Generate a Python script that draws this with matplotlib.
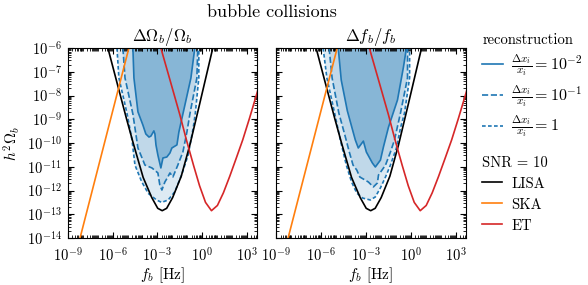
import numpy as np
import matplotlib
matplotlib.use("Agg")
import matplotlib.pyplot as plt
from matplotlib.lines import Line2D
from matplotlib.ticker import LogLocator, NullFormatter

plt.rcParams.update({
    'font.family': 'serif',
    'font.serif': ['cmr10'],
    'mathtext.fontset': 'cm',
    'axes.formatter.use_mathtext': True,
    'axes.unicode_minus': False,
})

# ── Données (log10 f [Hz], log10 h^2 Omega) ──────────────────────────────────
# courbes de sensibilite (SNR = 10), identiques dans les deux panneaux
lisa_lf = [-6.54, -6.32, -5.67, -5.06, -4.62, -3.95, -3.37, -2.97, -2.67,
           -2.37, -1.97, -1.39, -0.81, -0.17, 0.73, 0.92]
lisa_lO = [-5.48, -6.0, -7.55, -9.0, -10.0, -11.45, -12.3, -12.75, -12.85,
           -12.75, -12.3, -11.4, -10.08, -8.4, -6.0, -5.5]

ska_lf = [-8.4, -4.7]
ska_lO = [-14.51, -5.49]

et_lf = [-2.96, -2.76, -2.1, -1.48, -1.03, -0.56, -0.16, 0.24, 0.64,
         1.04, 1.44, 1.87, 2.3, 2.74, 3.2, 3.68, 3.9]
et_lO = [-5.5, -6.0, -7.45, -8.82, -9.9, -10.95, -11.8, -12.5, -12.85,
         -12.63, -12.1, -11.4, -10.65, -9.87, -8.95, -7.94, -7.45]

# panneau gauche : Delta Omega_b / Omega_b
om_sol_lf = [-4.64, -4.57, -4.30, -3.97, -3.77, -3.56, -3.43, -3.23, -3.16, -3.09, -2.96, -2.76,
             -2.62, -2.36, -2.15, -2.02, -1.68, -1.55, -1.28, -0.74, -0.48]
om_sol_lO = [-6.0, -7.26, -8.69, -9.24, -9.62, -9.75, -9.71, -9.49, -9.62, -10.08, -10.51, -11.05,
             -10.63, -10.59, -10.42, -10.21, -10.08, -9.54, -8.78, -7.26, -6.0]

om_lng_lf = [-5.31, -5.17, -4.64, -4.30, -3.83, -3.36, -2.96, -2.83, -2.69, -2.49, -2.29, -2.15,
             -1.95, -1.62, -1.28, -1.01, -0.81, -0.34, -0.28]
om_lng_lO = [-6.0, -7.26, -8.78, -10.21, -10.93, -11.05, -11.26, -11.77, -11.98, -11.64, -11.43, -11.26,
             -11.43, -10.93, -10.38, -9.54, -8.78, -7.26, -6.0]

om_sht_lf = [-5.71, -5.58, -5.04, -4.70, -4.50, -4.05, -3.61, -3.05, -2.71, -2.27, -1.82, -1.37,
             -0.93, -0.59, -0.45, -0.21, -0.21]
om_sht_lO = [-6.0, -7.26, -8.74, -9.87, -10.93, -11.63, -12.12, -12.40, -12.50, -12.40, -12.05, -11.35,
             -10.51, -9.38, -8.78, -7.26, -6.0]

# panneau droit : Delta f_b / f_b
fb_sol_lf = [-4.84, -4.64, -4.23, -3.70, -3.50, -3.16, -2.96, -2.56, -2.36, -2.02, -1.82, -1.48,
             -0.88, -0.48, -0.28]
fb_sol_lO = [-6.0, -7.35, -8.65, -9.87, -10.21, -9.92, -10.38, -10.84, -11.01, -10.72, -10.17, -9.33,
             -8.19, -6.80, -6.0]

fb_lng_lf = [-5.45, -5.25, -4.80, -4.40, -4.10, -3.85, -3.60, -3.40, -2.83, -2.49, -2.22, -2.15,
             -1.68, -1.35, -1.08, -0.68, -0.21, -0.21]
fb_lng_lO = [-6.0, -7.26, -8.74, -9.66, -10.38, -10.93, -11.14, -11.43, -11.64, -11.85, -11.68, -11.35,
             -10.93, -10.38, -9.87, -8.74, -7.26, -6.0]

fb_sht_lf = [-5.85, -5.60, -5.10, -4.70, -4.30, -3.95, -3.60, -3.20, -2.69, -2.36, -2.02, -1.68,
             -1.35, -0.95, -0.68, -0.41, -0.07, -0.07]
fb_sht_lO = [-6.0, -7.26, -8.69, -9.87, -10.93, -11.64, -12.11, -12.32, -12.40, -12.27, -11.89, -11.43,
             -10.93, -10.21, -9.37, -8.74, -7.26, -6.0]

panel_titles = [r'$\Delta\Omega_b/\Omega_b$', r'$\Delta f_b/f_b$']
rec_labels = [r'$\frac{\Delta x_i}{x_i} = 10^{-2}$', r'$\frac{\Delta x_i}{x_i} = 10^{-1}$',
              r'$\frac{\Delta x_i}{x_i} = 1$']
det_labels = ['LISA', 'SKA', 'ET']

C_BLUE = '#1f77b4'
LS_SHORT = (0, (2.2, 1.4))


def lg(v):
    return 10.0 ** np.asarray(v)


def panneau(ax, sol, lng, sht, titre):
    # zones de reconstruction (remplissages superposes)
    for (lf, lO), a in [(sht, 0.15), (lng, 0.15), (sol, 0.35)]:
        ax.fill(lg(lf), lg(lO), color=C_BLUE, alpha=a, lw=0)
    ax.plot(lg(sol[0]), lg(sol[1]), color=C_BLUE, lw=1.2, ls='-')
    ax.plot(lg(lng[0]), lg(lng[1]), color=C_BLUE, lw=1.2, ls='--')
    ax.plot(lg(sht[0]), lg(sht[1]), color=C_BLUE, lw=1.2, ls=LS_SHORT)

    ax.plot(lg(lisa_lf), lg(lisa_lO), color='k', lw=1.2)
    ax.plot(lg(ska_lf), lg(ska_lO), color='#ff7f0e', lw=1.2)
    ax.plot(lg(et_lf), lg(et_lO), color='#d62728', lw=1.2)

    ax.set_xscale('log')
    ax.set_yscale('log')
    ax.set_xlim(1e-9, 10 ** 3.7)
    ax.set_ylim(1e-14, 1e-6)
    ax.set_xticks([1e-9, 1e-6, 1e-3, 1e0, 1e3])
    ax.xaxis.set_minor_locator(LogLocator(base=10, subs=np.arange(1, 10), numticks=200))
    ax.xaxis.set_minor_formatter(NullFormatter())
    ax.yaxis.set_major_locator(LogLocator(base=10, numticks=20))
    ax.yaxis.set_minor_locator(LogLocator(base=10, subs=np.arange(2, 10), numticks=200))
    ax.yaxis.set_minor_formatter(NullFormatter())
    ax.tick_params(which='both', direction='in', top=True, right=True, labelsize=10.5)
    ax.tick_params(which='major', length=4, pad=4.5)
    ax.tick_params(axis='x', which='major', pad=6.5)
    ax.tick_params(which='minor', length=2)
    ax.set_title(titre, fontsize=12, pad=5)
    ax.set_xlabel(r'$f_b$ [Hz]', fontsize=11, labelpad=0)


fig = plt.figure(figsize=(5.88, 2.85), dpi=100)
ax1 = fig.add_axes([68 / 588, 1 - 238 / 285, 189 / 588, 190 / 285])
ax2 = fig.add_axes([276 / 588, 1 - 238 / 285, 190 / 588, 190 / 285])

panneau(ax1, (om_sol_lf, om_sol_lO), (om_lng_lf, om_lng_lO), (om_sht_lf, om_sht_lO), panel_titles[0])
panneau(ax2, (fb_sol_lf, fb_sol_lO), (fb_lng_lf, fb_lng_lO), (fb_sht_lf, fb_sht_lO), panel_titles[1])
ax2.tick_params(labelleft=False)
ax1.set_ylabel(r'$h^2\Omega_b$', fontsize=11, labelpad=3)

fig.text(272 / 588, 1 - 12 / 285, 'bubble collisions', ha='center', va='center', fontsize=13)

# ── Légendes ─────────────────────────────────────────────────────────────────
h_rec = [Line2D([], [], color=C_BLUE, lw=1.2, ls=s) for s in ['-', '--', LS_SHORT]]
fig.legend(h_rec, rec_labels, title='reconstruction', loc='upper left',
           bbox_to_anchor=(476 / 588, 1 - 27 / 285), frameon=False, fontsize=11.5,
           title_fontproperties={'size': 10.5}, alignment='left',
           handlelength=1.3, handletextpad=0.5, labelspacing=0.3, borderaxespad=0)
h_det = [Line2D([], [], color=c, lw=1.2) for c in ['k', '#ff7f0e', '#d62728']]
fig.legend(h_det, det_labels, title=r'SNR = 10', loc='upper left',
           bbox_to_anchor=(476 / 588, 1 - 150 / 285), frameon=False, fontsize=10.5,
           title_fontproperties={'size': 10.5}, alignment='left',
           handlelength=1.4, handletextpad=0.6, labelspacing=0.5, borderaxespad=0)

fig.savefig('out.png', dpi=100)
